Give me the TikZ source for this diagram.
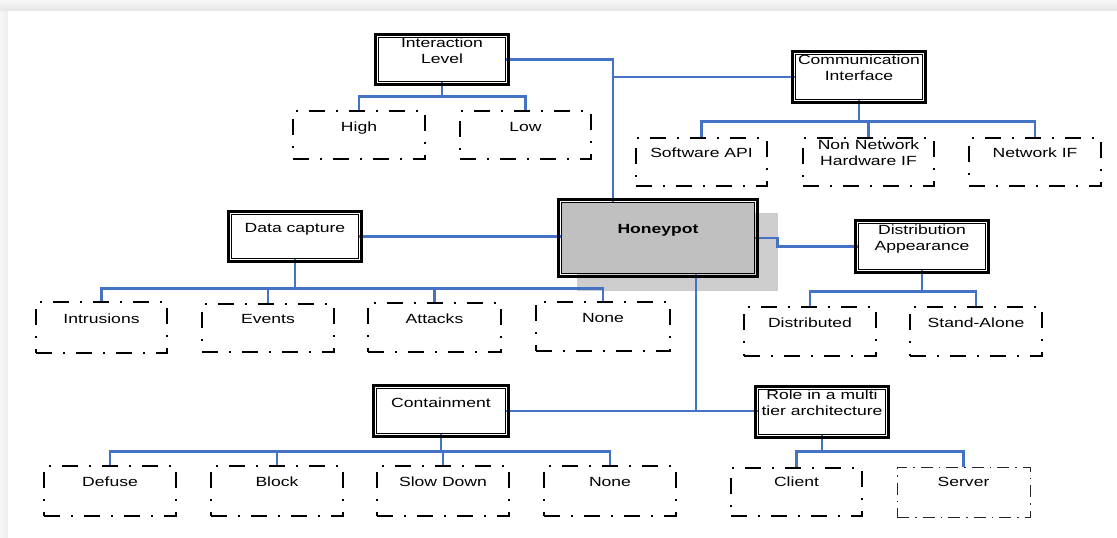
\documentclass[tikz,border=0pt]{standalone}
\usepackage{fontspec}
\setmainfont{Liberation Sans}
\usepackage{graphicx}
\usetikzlibrary{backgrounds,calc}
\definecolor{conn}{RGB}{68,114,196}
\definecolor{hpgray}{RGB}{192,192,192}
\definecolor{shgray}{RGB}{205,205,205}
\newcommand{\tx}[1]{\scalebox{1.32}[1]{\begin{tabular}[t]{@{}c@{}}#1\end{tabular}}}
\begin{document}
\begin{tikzpicture}[x=1pt,y=-1pt,
  every node/.style={font=\fontsize{13.3}{16}\selectfont, inner xsep=0pt, inner ysep=0pt, minimum height=0pt, anchor=center},
  catbox/.style={draw, line width=1.1pt, fill=white},
  leafbox/.style={draw, line width=2.3pt, fill=white, dash pattern=on 16pt off 11pt on 2pt off 11pt},
  thinleaf/.style={draw=black!85, line width=1pt, fill=white, dash pattern=on 12pt off 6pt on 1.5pt off 6pt},
  link/.style={draw=conn, line width=2.4pt},
  rim/.style={line width=2.4pt}
]
\useasboundingbox (0,0) rectangle (1117,538);

% category boxes
\node[catbox, minimum width=127pt, text height=10.26pt, text depth=33.74pt] (il) at (442,59.5) {\tx{Interaction\\Level}};
\node[catbox, minimum width=127pt, text height=10.26pt, text depth=34.74pt] (ci) at (859,77) {\tx{Communication\\Interface}};
\node[catbox, minimum width=127pt, text height=18.26pt, text depth=25.74pt] (dc) at (295,236.5) {\tx{Data capture}};
\node[catbox, minimum width=127pt, text height=11.26pt, text depth=34.74pt] (da) at (922,246.5) {\tx{Distribution\\Appearance}};
\node[catbox, minimum width=129pt, text height=19.26pt, text depth=25.74pt] (cont) at (441,411) {\tx{Containment}};
\node[catbox, minimum width=127pt, text height=10.26pt, text depth=34.74pt] (role) at (822,412) {\tx{Role in a multi\\tier architecture}};
\node[catbox, fill=hpgray, minimum width=193pt, text height=31.26pt, text depth=39.74pt] (hp) at (658,238) {\tx{\bfseries Honeypot}};

% leaf boxes
\node[leafbox, minimum width=132pt, text height=20.76pt, text depth=27.24pt] (high) at (359,135) {\tx{High}};
\node[leafbox, minimum width=131pt, text height=20.76pt, text depth=27.24pt] (low) at (525.5,135) {\tx{Low}};
\node[leafbox, minimum width=131pt, text height=19.76pt, text depth=28.24pt] (swapi) at (701.5,162) {\tx{Software API}};
\node[leafbox, minimum width=131pt, text height=11.76pt, text depth=36.24pt] (nnhw) at (868.5,162) {\tx{Non Network\\Hardware IF}};
\node[leafbox, minimum width=132pt, text height=19.76pt, text depth=28.24pt] (netif) at (1035,162) {\tx{Network IF}};
\node[leafbox, minimum width=131pt, text height=21.76pt, text depth=29.24pt] (intr) at (101.5,327.5) {\tx{Intrusions}};
\node[leafbox, minimum width=132pt, text height=19.76pt, text depth=28.24pt] (events) at (268,328) {\tx{Events}};
\node[leafbox, minimum width=133pt, text height=20.76pt, text depth=28.24pt] (attacks) at (434.5,327.5) {\tx{Attacks}};
\node[leafbox, minimum width=134pt, text height=20.76pt, text depth=28.24pt] (noneA) at (603,326.5) {\tx{None}};
\node[leafbox, minimum width=132pt, text height=20.76pt, text depth=28.24pt] (distr) at (810,331.5) {\tx{Distributed}};
\node[leafbox, minimum width=132pt, text height=20.76pt, text depth=28.24pt] (stal) at (976,331.5) {\tx{Stand-Alone}};
\node[leafbox, minimum width=132pt, text height=20.76pt, text depth=29.24pt] (defuse) at (110,491) {\tx{Defuse}};
\node[leafbox, minimum width=132pt, text height=20.76pt, text depth=29.24pt] (block) at (277,491) {\tx{Block}};
\node[leafbox, minimum width=132pt, text height=20.76pt, text depth=29.24pt] (slow) at (443,491) {\tx{Slow Down}};
\node[leafbox, minimum width=132pt, text height=20.76pt, text depth=29.24pt] (noneB) at (610,491) {\tx{None}};
\node[leafbox, minimum width=131pt, text height=18.76pt, text depth=29.24pt] (client) at (796.5,492) {\tx{Client}};
\node[thinleaf, minimum width=133pt, text height=19.76pt, text depth=30.24pt] (server) at (963.5,492) {\tx{Server}};

% outer rims of the double-framed boxes
\foreach \n in {il,ci,dc,da,cont,role,hp}
  \draw[rim] ([shift={(-2.6pt,2.6pt)}]\n.north west) rectangle ([shift={(2.6pt,-2.6pt)}]\n.south east);

\coordinate (trunk) at ([xshift=-45pt]hp.north);
\coordinate (hpfoot) at ([xshift=38pt]hp.south);

\begin{pgfonlayer}{background}
  \fill[black!5] (0,0) rectangle (1117,538);
  \shade[top color=black!3, bottom color=black!10] (0,0) rectangle (1117,11);
  \shade[left color=black!3, right color=black!7] (0,11) rectangle (8,538);
  \fill[white] (8,11) rectangle (1117,538);
  \fill[shgray] (577,213) rectangle (778,291);

  \draw[link] (il.east) -| (trunk);
  \draw[link] (ci.west) -- (ci.west -| trunk);
  \draw[link] (dc.east) -- (dc.east -| hp.west);
  \draw[link] (hp.east) -- ++(22.5,0) |- (da.west);
  \draw[link] (hpfoot) -- (hpfoot |- cont.east);
  \draw[link] (cont.east) -- (cont.east -| role.west);

  \foreach \c in {high,low} \draw[link] (il.south) -- ++(0,14.5) -| (\c.north);
  \foreach \c in {swapi,nnhw,netif} \draw[link] (ci.south) -- ++(0,21.5) -| (\c.north);
  \foreach \c in {intr,events,attacks,noneA} \draw[link] (dc.south) -- ++(0,29.5) -| (\c.north);
  \foreach \c in {distr,stal} \draw[link] (da.south) -- ++(0,21.5) -| (\c.north);
  \foreach \c in {defuse,block,slow,noneB} \draw[link] (cont.south) -- ++(0,17.5) -| (\c.north);
  \foreach \c in {client,server} \draw[link] (role.south) -- ++(0,16.5) -| (\c.north);
\end{pgfonlayer}
\end{tikzpicture}
\end{document}
